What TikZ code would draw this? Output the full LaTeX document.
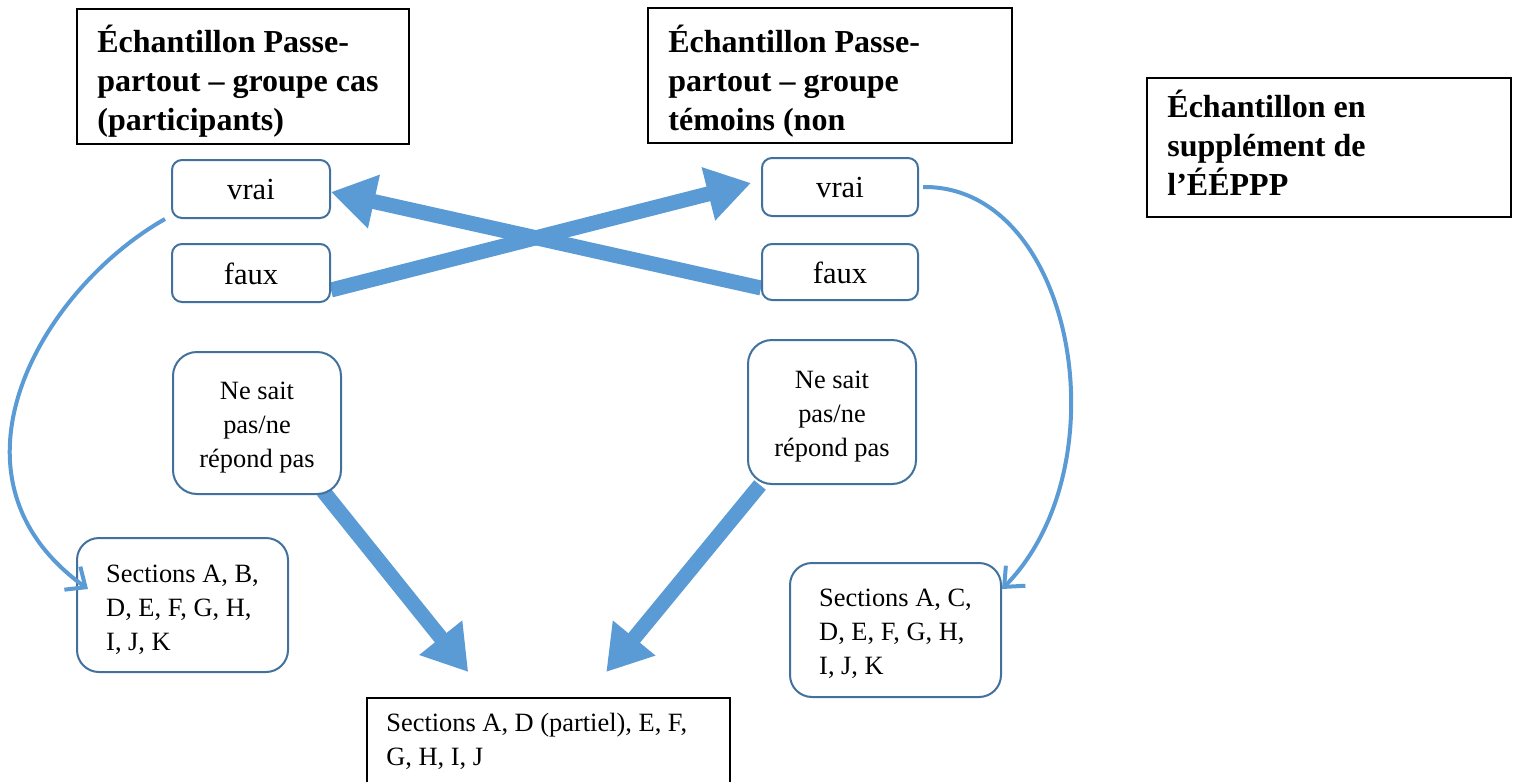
\documentclass[tikz,border=0pt]{standalone}
\usepackage{fontspec}
\setmainfont{Liberation Serif}
\usetikzlibrary{arrows.meta,calc,backgrounds,bending}
\definecolor{accfill}{HTML}{5B9BD5}
\definecolor{accline}{HTML}{41719C}
\tikzset{
  titlebox/.style={draw=black, line width=0.75pt, rectangle, inner sep=0pt},
  titletext/.style={font=\fontsize{16}{19.5}\selectfont\bfseries, align=left, inner sep=0pt, anchor=base west},
  rbox/.style={draw=accline, line width=1pt, rounded corners=#1, inner sep=0pt, fill=white},
  bodytext/.style={font=\fontsize{13.2}{17}\selectfont, inner sep=0pt},
  choicetext/.style={font=\fontsize{15.3}{17}\selectfont, inner sep=0pt},
  bigarrow/.style={draw=accfill, line width=7.5pt, line cap=butt, -{Triangle[length=22pt,width=26pt]}},
  curvearrow/.style={draw=accfill, line width=2pt, -{Straight Barb[length=8pt,width=14pt]}}
}
\begin{document}
\begin{tikzpicture}[x=0.5pt,y=-0.5pt]
\useasboundingbox (0,0) rectangle (1517,782);
\clip (0,0) rectangle (1517,782);

% title boxes
\node[titlebox, minimum width=166pt, minimum height=67.5pt] (t1) at (243,76.5) {};
\node[titletext] (t1txt) at (97,130) {Échantillon Passe-\\partout -- groupe cas\\(participants)};
\node[titlebox, minimum width=182pt, minimum height=67.5pt] (t2) at (830,75.5) {};
\node[titletext] (t2txt) at (668,130) {Échantillon Passe-\\partout -- groupe\\témoins (non};
\node[titlebox, minimum width=182pt, minimum height=69.5pt] (t3) at (1329,147.5) {};
\node[titletext] (t3txt) at (1167,195) {Échantillon en\\supplément de\\l’ÉÉPPP};

% rounded boxes
\node[rbox=5pt, minimum width=79pt, minimum height=29pt] (vL) at (251,189) {};
\node[choicetext] (vLtxt) at ([yshift=-0.5pt]vL.center) {vrai};
\node[rbox=5pt, minimum width=79pt, minimum height=29pt] (fL) at (251,273) {};
\node[choicetext] (fLtxt) at ([yshift=-0.5pt]fL.center) {faux};
\node[rbox=5pt, minimum width=78pt, minimum height=29pt] (vR) at (840,187) {};
\node[choicetext] (vRtxt) at ([yshift=-0.5pt]vR.center) {vrai};
\node[rbox=5pt, minimum width=78pt, minimum height=28pt] (fR) at (840,272) {};
\node[choicetext] (fRtxt) at ([yshift=-0.5pt]fR.center) {faux};

\node[rbox=12pt, minimum width=84pt, minimum height=71pt] (nL) at (257,423) {};
\node[bodytext, align=center] (nLtxt) at ([yshift=-2.2pt]nL.center) {Ne sait\\pas/ne\\répond pas};
\node[rbox=12pt, minimum width=84pt, minimum height=72pt] (nR) at (832,412) {};
\node[bodytext, align=center] (nRtxt) at ([yshift=-2.2pt]nR.center) {Ne sait\\pas/ne\\répond pas};

\node[rbox=11pt, minimum width=105.5pt, minimum height=67pt] (sL) at (182.5,605) {};
\node[bodytext, align=left] (sLtxt) at ([yshift=-2.5pt]sL.center) {Sections A, B,\\D, E, F, G, H,\\I, J, K};
\node[rbox=11pt, minimum width=105.5pt, minimum height=67pt] (sR) at (895.5,630) {};
\node[bodytext, align=left] (sRtxt) at ([yshift=-2pt]sR.center) {Sections A, C,\\D, E, F, G, H,\\I, J, K};

% bottom box (runs past the lower edge)
\node[titlebox, minimum width=181.5pt, minimum height=60pt, anchor=north west] (bot) at (366,697) {};
\node[bodytext, align=left, anchor=base west] (bottxt) at ([xshift=10pt,yshift=-34pt]bot.north west) {Sections A, D (partiel), E, F,\\G, H, I, J};

\begin{pgfonlayer}{background}
\draw[bigarrow] ([yshift=-8.5pt]fL.east) -- ([xshift=-5pt,yshift=2pt]vR.west);
\draw[bigarrow] ([yshift=-8pt]fR.west) -- ([yshift=-1.5pt]vL.east);
\draw[bigarrow] ([xshift=-9.5pt,yshift=2pt]nL.south east) -- ([xshift=-40pt,yshift=12.5pt]bot.north);
\draw[bigarrow] ([xshift=-36pt]nR.south) -- ([xshift=29pt,yshift=12.5pt]bot.north);
\end{pgfonlayer}

\draw[curvearrow] ([xshift=-3pt]vL.south west) .. controls (40,290) and (-70,480) .. ([xshift=6pt,yshift=8pt]sL.west);
\draw[curvearrow] ([xshift=2pt]vR.east) .. controls (1075,185) and (1125,470) .. ([yshift=20.5pt]sR.east);
\end{tikzpicture}
\end{document}
